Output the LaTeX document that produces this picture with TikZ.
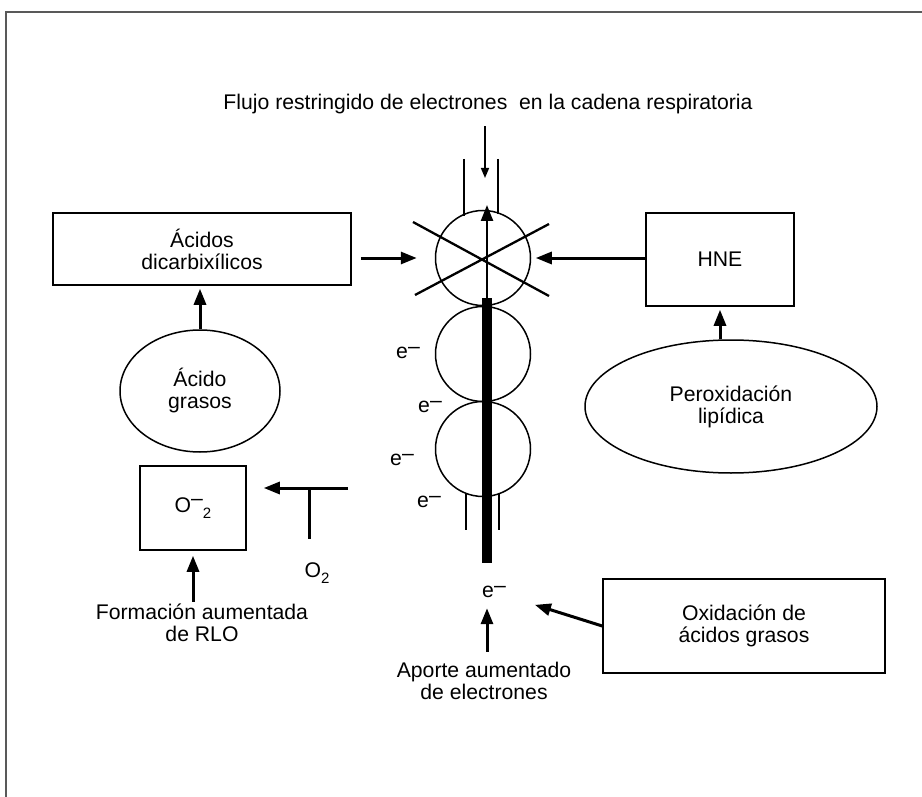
\documentclass[tikz,border=0pt]{standalone}
\usepackage{fontspec}
\setmainfont{Liberation Sans}
\usetikzlibrary{shapes.geometric,arrows.meta}
\newcommand\elec{e\raisebox{0.45ex}{–}}
\newcommand\superox{O\raisebox{0.55ex}{–}\raisebox{-0.6ex}{\fontsize{7.5}{8}\selectfont 2}}
\newcommand\oxy{O\raisebox{-0.6ex}{\fontsize{7.5}{8}\selectfont 2}}
\tikzset{
  >={Triangle[length=8pt,width=6pt]},
  box/.style={draw, line width=0.75pt, inner sep=0pt, align=center},
  blob/.style={box, ellipse},
  ring/.style={draw, circle, line width=0.75pt, inner sep=0pt, minimum size=47.5pt},
  arr/.style={->, line width=1.5pt},
  thinarr/.style={-{Triangle[length=5pt,width=4pt]}, line width=0.75pt},
  lbl/.style={align=center, inner sep=1pt},
}

\begin{document}
\begin{tikzpicture}[x=0.5pt, y=-0.5pt, font=\fontsize{10.6}{11}\selectfont]
  \useasboundingbox (0,0) rectangle (922,797);
  \draw[line width=0.8pt, black!65] (922,12) -- (6,12) -- (6,797);

  % cadena respiratoria
  \node[ring] (c1) at (483,258) {};
  \node[ring] (c2) at (483,354) {};
  \node[ring] (c3) at (483,449) {};
  \draw[line width=0.75pt] (464,159) -- (464,216) (498,159) -- (498,214);
  \draw[line width=0.75pt] (466,493) -- (466,530) (499,494) -- (499,530);
  \draw[line width=1.15pt] (413,222) -- (549,296) (415,295) -- (549,224);
  \node[fill, inner sep=0pt, minimum width=5pt, minimum height=132.5pt] (bar) at (487,430.5) {};
  \coordinate (outtip) at (487,205);
  \draw[arr, line width=1.2pt] (bar.north) -- (outtip);

  \node[lbl] (title) at (488,104) {Flujo restringido de electrones\ \ en la cadena respiratoria};
  \coordinate (intip) at (485,178);
  \draw[thinarr, shorten <=5pt] (title.south -| intip) -- (intip);

  \node[lbl] (e1) at (408,353) {\elec};
  \node[lbl] (e2) at (430,407) {\elec};
  \node[lbl] (e3) at (402,460) {\elec};
  \node[lbl] (e4) at (429,502) {\elec};
  \node[lbl] (ebot) at (494,592) {\elec};

  % lado izquierdo
  \node[box, minimum width=149pt, minimum height=36pt] (dicarb) at (202,249) {Ácidos\\dicarbixílicos};
  \node[blob, minimum width=80pt, minimum height=61pt] (acgras) at (200,391) {Ácido\\grasos};
  \node[box, minimum width=53pt, minimum height=42pt] (o2box) at (193,508) {\superox};
  \node[lbl] (form) at (202,623) {Formación aumentada\\de RLO};
  \node[lbl] (oxy) at (317,573) {\oxy};
  \coordinate (tstart) at (348,488);
  \coordinate (tjoin) at (309,488);
  \coordinate (stemend) at (309,539);

  \draw[arr, shorten <=4.5pt, shorten >=9pt] (dicarb.east |- c1.west) -- (c1.west);
  \draw[arr, shorten >=1.5pt] (acgras.north) -- (acgras.north |- dicarb.south);
  \draw[arr, shorten >=8.5pt] (tstart) -- (o2box.east |- tstart);
  \draw[line width=1.5pt] (tjoin) -- (stemend);
  \draw[arr, shorten >=2.5pt] (form.north -| o2box) -- (o2box.south);

  % lado derecho
  \node[box, minimum width=74pt, minimum height=46.5pt] (hne) at (720,259.5) {HNE};
  \node[blob, minimum width=146pt, minimum height=66.5pt] (perox) at (731,406.5) {Peroxidación\\lipídica};
  \node[box, minimum width=141pt, minimum height=47pt] (oxi) at (744,626) {Oxidación de\\ácidos grasos};
  \node[lbl] (aporte) at (484,681) {Aporte aumentado\\de electrones};

  \draw[arr, shorten >=2.25pt] (hne.west |- c1.east) -- (c1.east);
  \draw[arr, shorten >=1.5pt] (hne.south |- perox.north) -- (hne.south);
  \draw[arr, shorten >=14pt] (oxi.west) -- (ebot);
  \draw[arr, shorten <=4pt, shorten >=4pt] (aporte.north -| bar) -- (ebot.south -| bar);
\end{tikzpicture}
\end{document}
